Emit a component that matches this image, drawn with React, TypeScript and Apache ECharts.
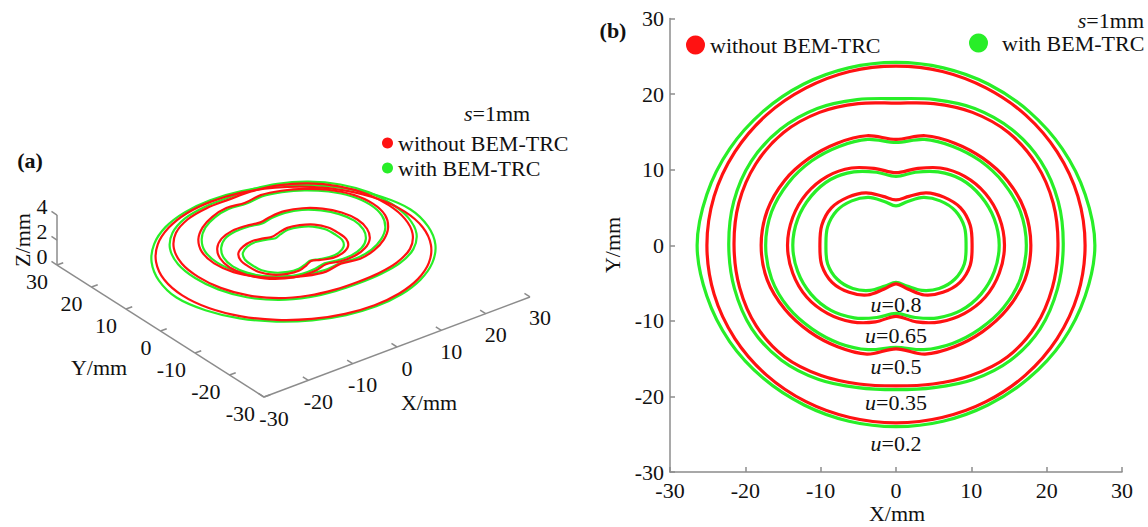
import React, { useEffect, useRef } from 'react';
import * as echarts from 'echarts';

// ---------- data ----------
const ANGLES_DEG = [0, 15, 30, 45, 60, 75, 90, 105, 120, 135, 150, 165, 180, 195, 210, 225, 240, 255, 270, 285, 300, 315, 330, 345];
const U_VALUES = ['0.2', '0.35', '0.5', '0.65', '0.8'];
const U_LABEL_Y = [-26.2, -20.8, -16.0, -12.0, -7.8];
const CONTOUR_Z_3D = [2.2, 3.2, 3.8, 3.0, 2.5];

// contour radius (mm) at each angle of ANGLES_DEG, "without BEM-TRC"
const RED_U020 = [25.1, 25.0, 24.7, 24.35, 24.0, 23.8, 23.7, 23.8, 24.0, 24.35, 24.7, 25.0, 25.1, 25.0, 24.7, 24.3, 23.9, 23.6, 23.5, 23.6, 23.9, 24.3, 24.7, 25.0];
const RED_U035 = [21.5, 21.6, 21.5, 21.1, 20.3, 19.4, 18.8, 19.4, 20.3, 21.1, 21.5, 21.6, 21.5, 21.5, 21.4, 20.9, 19.9, 19.0, 18.6, 19.0, 19.9, 20.9, 21.4, 21.5];
const RED_U050 = [17.9, 17.7, 17.1, 16.3, 15.6, 15.0, 14.0, 15.0, 15.6, 16.3, 17.1, 17.7, 17.9, 17.7, 17.0, 16.2, 15.5, 14.9, 13.7, 14.9, 15.5, 16.2, 17.0, 17.7];
const RED_U065 = [14.4, 14.2, 13.7, 12.9, 11.8, 10.5, 9.6, 10.5, 11.8, 12.9, 13.7, 14.2, 14.4, 14.2, 13.7, 12.8, 11.7, 10.5, 9.4, 10.5, 11.7, 12.8, 13.7, 14.2];
const RED_U080 = [10.1, 10.2, 9.9, 9.0, 8.0, 6.7, 6.0, 6.7, 8.0, 9.0, 9.9, 10.2, 10.1, 10.2, 9.8, 8.8, 7.6, 6.0, 5.1, 6.0, 7.6, 8.8, 9.8, 10.2];

// contour radius (mm) at each angle of ANGLES_DEG, "with BEM-TRC"
const GREEN_U020 = [26.4, 26.0, 25.5, 25.0, 24.6, 24.3, 24.2, 24.3, 24.6, 25.0, 25.5, 26.0, 26.4, 26.0, 25.5, 24.9, 24.4, 24.1, 24.0, 24.1, 24.4, 24.9, 25.5, 26.0];
const GREEN_U035 = [22.2, 22.3, 22.2, 21.7, 20.9, 19.95, 19.4, 19.95, 20.9, 21.7, 22.2, 22.3, 22.2, 22.2, 22.1, 21.5, 20.5, 19.5, 19.1, 19.5, 20.5, 21.5, 22.1, 22.2];
const GREEN_U050 = [17.3, 17.1, 16.5, 15.8, 15.1, 14.5, 13.6, 14.5, 15.1, 15.8, 16.5, 17.1, 17.3, 17.1, 16.5, 15.7, 15.0, 14.3, 13.5, 14.3, 15.0, 15.7, 16.5, 17.1];
const GREEN_U065 = [13.7, 13.5, 13.0, 12.3, 11.2, 10.0, 9.1, 10.0, 11.2, 12.3, 13.0, 13.5, 13.7, 13.5, 13.0, 12.2, 11.1, 9.9, 9.0, 9.9, 11.1, 12.2, 13.0, 13.5];
const GREEN_U080 = [9.3, 9.4, 9.1, 8.3, 7.3, 6.0, 5.2, 6.0, 7.3, 8.3, 9.1, 9.4, 9.3, 9.4, 9.0, 8.1, 6.9, 5.6, 4.9, 5.6, 6.9, 8.1, 9.0, 9.4];

const RED_RADII = [RED_U020, RED_U035, RED_U050, RED_U065, RED_U080];
const GREEN_RADII = [GREEN_U020, GREEN_U035, GREEN_U050, GREEN_U065, GREEN_U080];

const XY_TICKS = [-30, -20, -10, 0, 10, 20, 30];
const Z_TICKS = [0, 2, 4];

const NAME_RED = 'without BEM-TRC';
const NAME_GREEN = 'with BEM-TRC';

// ---------- styles ----------
const RED = '#ff1212';
const GREEN = '#28ee28';
const AXIS_GRAY = '#8c8c8c';
const TEXT = '#111111';
const FONT = '"Liberation Serif", "Times New Roman", serif';
const FS = 22;
const SMOOTH = 0.34;

// oblique view of panel (a): screen pixels per mm
const VIEW = { ox: 293.5, oy: 281, xdx: 4.433, xdy: -1.667, ydx: -3.45, ydy: -2.2, zdy: -12.5 };
function project(X: number, Y: number, Z: number): number[] {
  return [VIEW.ox + X * VIEW.xdx + Y * VIEW.ydx, VIEW.oy + X * VIEW.xdy + Y * VIEW.ydy + Z * VIEW.zdy];
}
function polar(r: number, deg: number): number[] {
  const a = (deg * Math.PI) / 180;
  return [r * Math.cos(a), r * Math.sin(a)];
}

function contour2D(name: string, color: string, radiiList: number[][]) {
  return {
    type: 'custom',
    name,
    xAxisIndex: 0,
    yAxisIndex: 0,
    itemStyle: { color },
    silent: true,
    data: radiiList.map((_, i) => [i, 0]),
    renderItem: (params: any, api: any) => {
      const radii = radiiList[params.dataIndex];
      const points = radii.map((r, k) => api.coord(polar(r, ANGLES_DEG[k])));
      return {
        type: 'polygon',
        shape: { points, smooth: SMOOTH },
        style: { fill: 'none', stroke: color, lineWidth: 3.2 },
      };
    },
  };
}

function contour3D(name: string, color: string, radiiList: number[][]) {
  return {
    type: 'custom',
    name,
    xAxisIndex: 1,
    yAxisIndex: 1,
    itemStyle: { color },
    silent: true,
    data: radiiList.map((_, i) => [i, 0]),
    renderItem: (params: any, api: any) => {
      const i = params.dataIndex;
      const points = radiiList[i].map((r, k) => {
        const p = polar(r, ANGLES_DEG[k]);
        return api.coord(project(p[0], p[1], CONTOUR_Z_3D[i]));
      });
      return {
        type: 'polygon',
        shape: { points, smooth: SMOOTH },
        style: { fill: 'none', stroke: color, lineWidth: 2.2 },
      };
    },
  };
}

function axes3D() {
  return {
    type: 'custom',
    name: 'axes3d',
    xAxisIndex: 1,
    yAxisIndex: 1,
    silent: true,
    data: [[0, 0]],
    renderItem: (_params: any, api: any) => {
      const P = (X: number, Y: number, Z: number) => api.coord(project(X, Y, Z));
      const lineStyle = { stroke: AXIS_GRAY, lineWidth: 1.5 };
      const seg = (a: number[], b: number[]) => ({ type: 'line', shape: { x1: a[0], y1: a[1], x2: b[0], y2: b[1] }, style: lineStyle });
      const txt = (p: number[], dx: number, dy: number, text: string, align: string) => ({
        type: 'text',
        x: p[0] + dx,
        y: p[1] + dy,
        style: { text, fill: TEXT, fontSize: FS, fontFamily: FONT, align, verticalAlign: 'middle' },
      });
      const children: any[] = [];
      const lo = XY_TICKS[0];
      const hi = XY_TICKS[XY_TICKS.length - 1];
      const zhi = Z_TICKS[Z_TICKS.length - 1];
      children.push(seg(P(lo, hi, 0), P(lo, lo, 0)));
      children.push(seg(P(lo, lo, 0), P(hi, lo, 0)));
      children.push(seg(P(lo, hi, 0), P(lo, hi, zhi)));
      XY_TICKS.forEach((t) => {
        children.push(seg(P(lo, t, 0), P(lo + 1.4, t, 0)));
        children.push(txt(P(lo, t, 0), -9, 16, String(t), 'right'));
        children.push(seg(P(t, lo, 0), P(t, lo + 1.6, 0)));
        children.push(txt(P(t, lo, 0), 10, 21, String(t), 'center'));
      });
      Z_TICKS.forEach((z) => {
        children.push(seg(P(lo, hi, z), P(lo, hi + 1.6, z)));
        children.push(txt(P(lo, hi, z), -15, -9, String(z), 'center'));
      });
      return { type: 'group', children };
    },
  };
}

function contourLabels() {
  return {
    type: 'custom',
    name: 'ulabels',
    xAxisIndex: 0,
    yAxisIndex: 0,
    silent: true,
    data: U_LABEL_Y.map((y) => [0, y]),
    renderItem: (params: any, api: any) => {
      const p = api.coord([api.value(0), api.value(1)]);
      return {
        type: 'text',
        x: p[0],
        y: p[1],
        style: {
          text: '{i|u}=' + U_VALUES[params.dataIndex],
          fill: TEXT,
          fontSize: FS,
          fontFamily: FONT,
          align: 'center',
          verticalAlign: 'middle',
          rich: { i: { fontStyle: 'italic', fontSize: FS, fontFamily: FONT, fill: TEXT } },
        },
      };
    },
  };
}

const textStyle = { fontSize: FS, fontFamily: FONT, color: TEXT };

function makeValueAxis(extra: any) {
  return {
    type: 'value',
    min: -30,
    max: 30,
    interval: 10,
    gridIndex: 0,
    axisLine: { show: true, onZero: false, lineStyle: { color: AXIS_GRAY, width: 1.5 } },
    axisTick: { show: true, inside: true, length: 5, lineStyle: { color: AXIS_GRAY, width: 1.5 } },
    splitLine: { show: false },
    ...extra,
  };
}

export default function App() {
  const ref = useRef<HTMLDivElement>(null);
  useEffect(() => {
    if (!ref.current) return;
    const chart = echarts.init(ref.current, null, { renderer: 'svg' });
    const option: any = {
      animation: false,
      backgroundColor: '#ffffff',
      grid: [
        { left: 670, top: 18.5, width: 452, height: 453.5 },
        { left: 0, top: 0, width: 1148, height: 527 },
      ],
      xAxis: [
        makeValueAxis({ axisLabel: { ...textStyle, margin: 7 } }),
        { type: 'value', gridIndex: 1, min: 0, max: 1148, show: false },
      ],
      yAxis: [
        makeValueAxis({ axisLabel: { ...textStyle, margin: 6 } }),
        { type: 'value', gridIndex: 1, min: 0, max: 527, inverse: true, show: false },
      ],
      legend: [
        {
          data: [NAME_RED, NAME_GREEN],
          orient: 'vertical',
          left: 382,
          top: 132,
          icon: 'circle',
          itemWidth: 11,
          itemHeight: 11,
          itemGap: 3,
          padding: 0,
          selectedMode: false,
          textStyle,
        },
        {
          data: [NAME_RED],
          left: 686,
          top: 34,
          icon: 'circle',
          itemWidth: 19,
          itemHeight: 19,
          padding: 0,
          selectedMode: false,
          textStyle,
        },
        {
          data: [NAME_GREEN],
          left: 969,
          top: 32,
          icon: 'circle',
          itemWidth: 19,
          itemHeight: 19,
          padding: 0,
          selectedMode: false,
          textStyle: { ...textStyle, padding: [0, 0, 0, 9] },
        },
      ],
      graphic: [
        { type: 'text', x: 613, y: 30, style: { text: '(b)', fill: TEXT, fontSize: FS, fontWeight: 'bold', fontFamily: FONT, align: 'center', verticalAlign: 'middle' } },
        { type: 'text', x: 30, y: 160, style: { text: '(a)', fill: TEXT, fontSize: FS, fontWeight: 'bold', fontFamily: FONT, align: 'center', verticalAlign: 'middle' } },
        { type: 'text', x: 1144, y: 20, style: { text: '{i|s}=1mm', fill: TEXT, fontSize: FS, fontFamily: FONT, align: 'right', verticalAlign: 'middle', rich: { i: { fontStyle: 'italic', fontSize: FS, fontFamily: FONT, fill: TEXT } } } },
        { type: 'text', x: 497, y: 113, style: { text: '{i|s}=1mm', fill: TEXT, fontSize: FS, fontFamily: FONT, align: 'center', verticalAlign: 'middle', rich: { i: { fontStyle: 'italic', fontSize: FS, fontFamily: FONT, fill: TEXT } } } },
        { type: 'text', x: 612, y: 245, rotation: Math.PI / 2, style: { text: 'Y/mm', fill: TEXT, fontSize: FS, fontFamily: FONT, align: 'center', verticalAlign: 'middle' } },
        { type: 'text', x: 897, y: 513, style: { text: 'X/mm', fill: TEXT, fontSize: FS, fontFamily: FONT, align: 'center', verticalAlign: 'middle' } },
        { type: 'text', x: 22, y: 240, rotation: Math.PI / 2, style: { text: 'Z/mm', fill: TEXT, fontSize: FS, fontFamily: FONT, align: 'center', verticalAlign: 'middle' } },
        { type: 'text', x: 99, y: 367, style: { text: 'Y/mm', fill: TEXT, fontSize: FS, fontFamily: FONT, align: 'center', verticalAlign: 'middle' } },
        { type: 'text', x: 429, y: 402, style: { text: 'X/mm', fill: TEXT, fontSize: FS, fontFamily: FONT, align: 'center', verticalAlign: 'middle' } },
      ],
      series: [
        axes3D(),
        contour3D(NAME_GREEN, GREEN, GREEN_RADII),
        contour3D(NAME_RED, RED, RED_RADII),
        contour2D(NAME_GREEN, GREEN, GREEN_RADII),
        contour2D(NAME_RED, RED, RED_RADII),
        contourLabels(),
      ],
    };
    chart.setOption(option);
    return () => chart.dispose();
  }, []);
  return <div ref={ref} style={{ position: 'absolute', left: 0, top: 0, width: 1148, height: 527 }} />;
}
